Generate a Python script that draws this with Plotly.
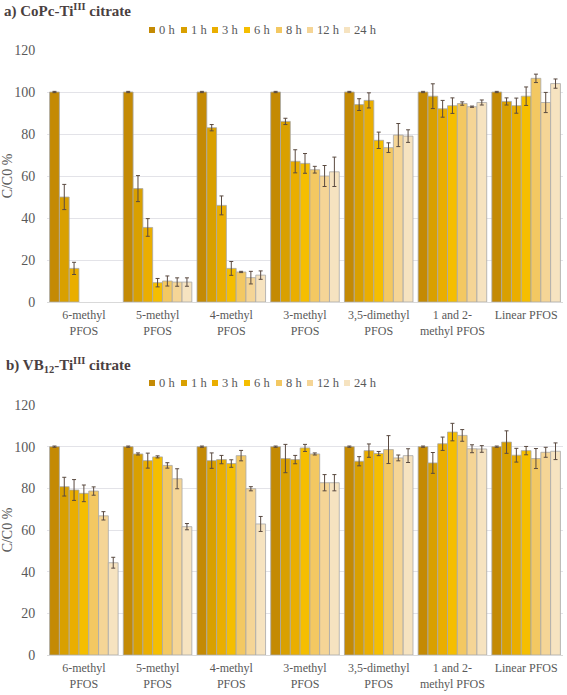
import plotly.graph_objects as go

categories = ["6-methyl<br>PFOS", "5-methyl<br>PFOS", "4-methyl<br>PFOS", "3-methyl<br>PFOS",
              "3,5-dimethyl<br>PFOS", "1 and 2-<br>methyl PFOS", "Linear PFOS"]
times = ["0 h", "1 h", "3 h", "6 h", "8 h", "12 h", "24 h"]
colors = ["#C48A04", "#D9A000", "#EAAE00", "#F5BE00", "#F3C862", "#F5D596", "#F6E3C0"]

# a) CoPc-Ti(III) citrate : values[time][category]
a_vals = [
    [100, 100, 100, 100, 100, 100, 100],
    [50, 54, 83, 86, 94, 98, 95.5],
    [16, 35.5, 46, 67, 96, 92, 93.5],
    [None, 9.2, 16, 66, 77, 93.5, 98],
    [None, 10, 14.3, 63, 73.5, 94.5, 106.5],
    [None, 9.5, 11.6, 60, 79.5, 93, 95],
    [None, 9.5, 12.8, 62, 79, 95, 104],
]
a_err = [
    [0.3, 0.3, 0.3, 0.3, 0.3, 0.3, 0.3],
    [6, 6.2, 1.5, 1.5, 2.8, 5.9, 1.7],
    [2.9, 4.2, 4.5, 5.5, 3.6, 4, 3.6],
    [None, 2, 3.3, 4.7, 3.9, 3.7, 4.4],
    [None, 2.4, 0.3, 1.6, 2.3, 0.8, 2],
    [None, 2, 3, 5, 5.5, 0.3, 4.8],
    [None, 2, 2, 7, 3, 1.2, 2.2],
]

# b) VB12-Ti(III) citrate
b_vals = [
    [100, 100, 100, 100, 100, 100, 100],
    [80.8, 96.5, 93.3, 94.3, 93, 92.2, 102.2],
    [79.2, 93.3, 93.8, 93.8, 98.1, 101.4, 95.9],
    [77.6, 95.1, 91.9, 99.4, 96.7, 107, 98.1],
    [78.7, 91, 95.7, 96.5, 98.6, 105.4, 94.3],
    [66.8, 84.6, 79.8, 82.7, 94.6, 99, 97.3],
    [44.3, 61.6, 62.9, 82.7, 95.7, 98.9, 97.8],
]
b_err = [
    [0.3, 0.3, 0.3, 0.3, 0.3, 0.3, 0.3],
    [4.5, 0.5, 3.7, 6.8, 2.2, 5, 5.4],
    [5, 3.6, 2, 2, 3.2, 3.2, 3.3],
    [4, 0.5, 1.8, 1.7, 1, 4.2, 2],
    [2, 1.3, 2.5, 0.5, 6.7, 2.8, 4.8],
    [2, 4.8, 1, 3.9, 1.4, 1.9, 2.4],
    [2.6, 1.5, 3.6, 3.9, 3.3, 1.6, 4],
]

SERIF = "Liberation Serif"
TXT = "#595959"

W, H = 567, 695
L, R, T, B = 47, 4, 50, 40
pw, ph = W - L - R, H - T - B


def px2x(px):
    return (px - L) / pw


def py2y(py):
    return (H - B - py) / ph


fig = go.Figure()
for i, t in enumerate(times):
    fig.add_trace(go.Bar(
        x=categories, y=a_vals[i], name=t, showlegend=False,
        marker=dict(color=colors[i], line=dict(color="#A8A8A8", width=0.8)),
        error_y=dict(type="data", array=a_err[i], color="#5a4a40", thickness=1, width=2),
        xaxis="x", yaxis="y",
    ))
for i, t in enumerate(times):
    fig.add_trace(go.Bar(
        x=categories, y=b_vals[i], name=t, showlegend=False,
        marker=dict(color=colors[i], line=dict(color="#A8A8A8", width=0.8)),
        error_y=dict(type="data", array=b_err[i], color="#5a4a40", thickness=1, width=2),
        xaxis="x2", yaxis="y2",
    ))

top_lo = py2y(302)
bot_hi = py2y(405)


def xax(anchor):
    return dict(domain=[0, 1], anchor=anchor, showgrid=False, ticks="outside", ticklen=2,
                tickcolor="rgba(0,0,0,0)", showline=True, linecolor="#d9d9d9", zeroline=False,
                tickfont=dict(family=SERIF, size=12, color=TXT))


def yax(anchor, dom):
    return dict(domain=dom, anchor=anchor, range=[0, 120], dtick=20,
                gridcolor="#e3e3e8", gridwidth=1, zeroline=False, showline=False,
                ticks="outside", ticklen=8, tickcolor="rgba(0,0,0,0)",
                tickfont=dict(family=SERIF, size=14, color=TXT),
                title=dict(text="C/C0 %", font=dict(family=SERIF, size=14, color=TXT), standoff=0))


annotations = [
    dict(text="<b>a) CoPc-Ti<sup>III</sup> citrate</b>", xref="paper", yref="paper",
         x=px2x(2), y=py2y(11), xanchor="left", yanchor="middle", showarrow=False,
         font=dict(family=SERIF, size=15, color="#4a4040")),
    dict(text="<b>b) VB<sub>12</sub>-Ti<sup>III</sup> citrate</b>", xref="paper", yref="paper",
         x=px2x(4), y=py2y(365), xanchor="left", yanchor="middle", showarrow=False,
         font=dict(family=SERIF, size=15, color="#4a4040")),
]
shapes = []
leg_px = [149, 181, 212, 244, 276, 307, 344]
for ly in (30, 383):
    for i, t in enumerate(times):
        x0 = leg_px[i]
        shapes.append(dict(type="rect", xref="paper", yref="paper",
                           x0=px2x(x0), x1=px2x(x0 + 6), y0=py2y(ly + 3), y1=py2y(ly - 3),
                           fillcolor=colors[i], line=dict(width=0)))
        annotations.append(dict(text=t, xref="paper", yref="paper", x=px2x(x0 + 8), y=py2y(ly),
                                xanchor="left", yanchor="middle", showarrow=False,
                                font=dict(family=SERIF, size=12.5, color=TXT)))

fig.update_layout(
    width=W, height=H,
    margin=dict(l=L, r=R, t=T, b=B, autoexpand=False),
    paper_bgcolor="white", plot_bgcolor="white",
    barmode="group", bargap=0.07, bargroupgap=0,
    font=dict(family=SERIF, color=TXT),
    showlegend=False,
    xaxis=xax("y"), yaxis=yax("x", [top_lo, 1]),
    xaxis2=xax("y2"), yaxis2=yax("x2", [0, bot_hi]),
    annotations=annotations, shapes=shapes,
)

fig.write_html("out.html", config={"displayModeBar": False},
               post_script="document.body.style.margin='0px';document.body.style.overflow='hidden';")
